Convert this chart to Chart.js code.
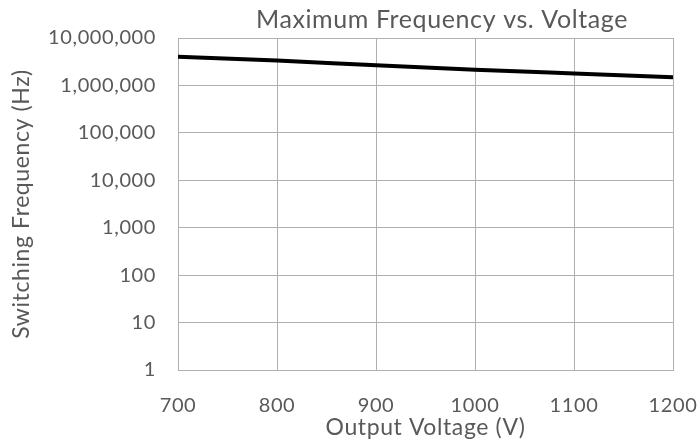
<!DOCTYPE html>
<html>
<head>
<meta charset="utf-8">
<title>Maximum Frequency vs. Voltage</title>
<script src="https://cdn.jsdelivr.net/npm/chart.js@4/dist/chart.umd.min.js"></script>
<style>
  html, body { margin: 0; padding: 0; background: #fff; }
  #wrap { width: 700px; height: 443px; position: relative; }
</style>
</head>
<body>
<div id="wrap"><canvas id="freqChart"></canvas></div>
<script>
// Output voltage (V) and the max switching frequency (Hz) at each point
const voltages = [700, 800, 900, 1000, 1100, 1200];
const maxFrequency = [4000000, 3350000, 2650000, 2150000, 1780000, 1480000];
const yTickValues = [1, 10, 100, 1000, 10000, 100000, 1000000, 10000000];

const FONT = 'Lato, "Open Sans", sans-serif';
const TEXT = '#595959';

// spacing between letters, like the office-style labels
const tracking = {
    id: 'tracking',
    beforeLayout(chart) { chart.ctx.letterSpacing = '0.6px'; },
    beforeDraw(chart) { chart.ctx.letterSpacing = '0.6px'; }
};

// chart title, centred a bit right of the canvas middle
const chartTitle = {
    id: 'chartTitle',
    afterDraw(chart) {
        const ctx = chart.ctx;
        ctx.save();
        ctx.font = '25px ' + FONT;
        ctx.fillStyle = TEXT;
        ctx.textAlign = 'center';
        ctx.textBaseline = 'alphabetic';
        ctx.fillText('Maximum Frequency vs. Voltage', 442, 28);
        ctx.restore();
    }
};

const ctx = document.getElementById('freqChart');
new Chart(ctx, {
    type: 'line',
    data: {
        datasets: [{
            data: voltages.map((v, i) => ({ x: v, y: maxFrequency[i] })),
            borderColor: '#000',
            borderWidth: 4,
            pointRadius: 0,
            tension: 0.4,
            cubicInterpolationMode: 'monotone',
            fill: false
        }]
    },
    options: {
        responsive: true,
        maintainAspectRatio: false,
        animation: false,
        layout: { padding: { top: 38, right: 27, left: 0, bottom: 0 } },
        plugins: {
            legend: { display: false },
            tooltip: { enabled: false }
        },
        scales: {
            x: {
                type: 'linear',
                min: 700,
                max: 1200,
                ticks: {
                    stepSize: 100,
                    padding: 24,
                    color: TEXT,
                    font: { family: FONT, size: 20 },
                    callback: (v) => String(v)
                },
                grid: { color: '#b0b0b0', lineWidth: 1, drawTicks: false },
                border: { color: '#b0b0b0' },
                title: {
                    display: true,
                    text: 'Output Voltage (V)',
                    color: TEXT,
                    font: { family: FONT, size: 23 },
                    padding: { top: 0, bottom: 2 }
                },
                afterFit(scale) {
                    scale.height = 73;
                    // let the end labels hang into the outer padding
                    scale.paddingLeft = 0;
                    scale.paddingRight = 0;
                }
            },
            y: {
                type: 'logarithmic',
                min: 1,
                max: 10000000,
                afterBuildTicks(scale) {
                    scale.ticks = yTickValues.map(v => ({ value: v }));
                },
                ticks: {
                    padding: 22,
                    color: TEXT,
                    font: { family: FONT, size: 20 },
                    callback: (v) => Number(v).toLocaleString('en-US')
                },
                grid: { color: '#b0b0b0', lineWidth: 1, drawTicks: false },
                border: { color: '#b0b0b0' },
                title: {
                    display: true,
                    text: 'Switching Frequency (Hz)',
                    color: TEXT,
                    font: { family: FONT, size: 23 },
                    padding: { top: 8, bottom: 0 }
                },
                afterFit(scale) { scale.width = 178; }
            }
        }
    },
    plugins: [tracking, chartTitle]
});
</script>
</body>
</html>
